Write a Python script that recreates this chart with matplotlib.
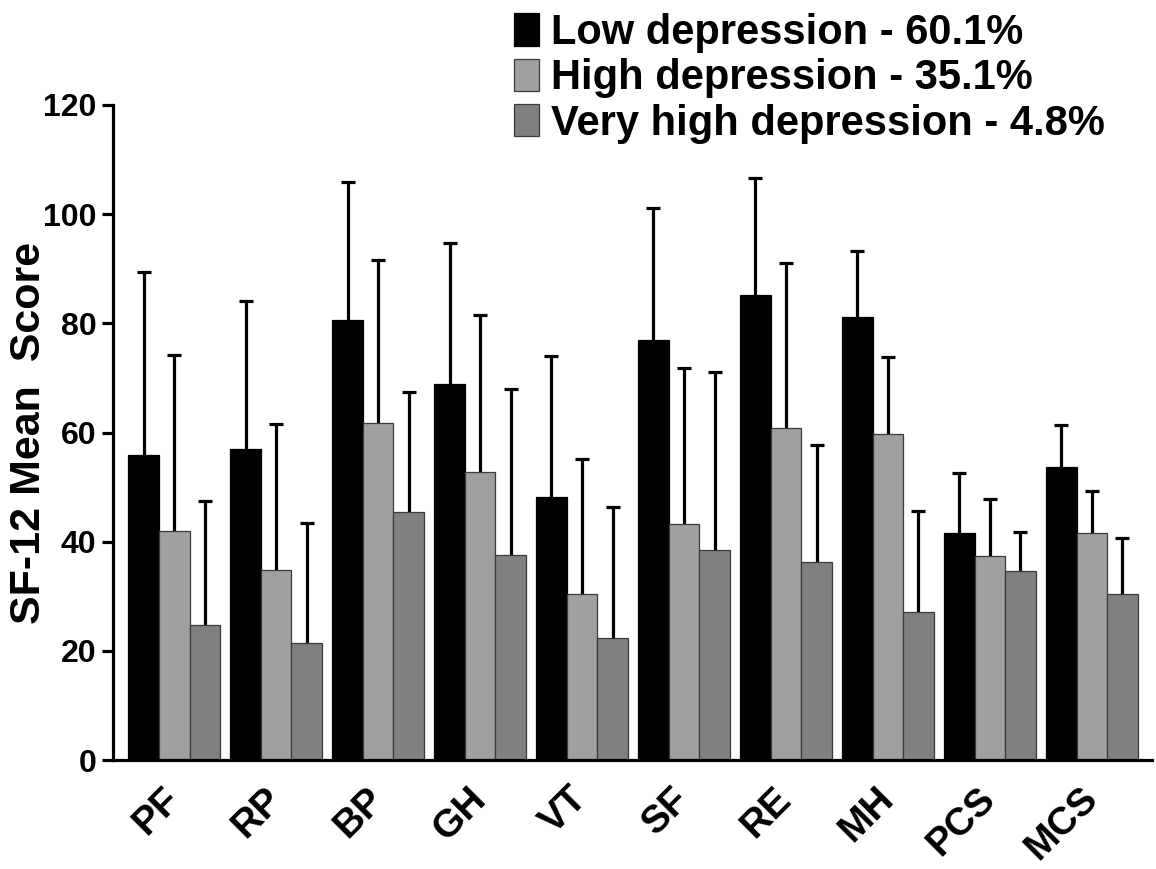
import numpy as np
import matplotlib
matplotlib.use("Agg")
import matplotlib.pyplot as plt

plt.rcParams['font.family'] = ['Liberation Sans', 'DejaVu Sans']
plt.rcParams['font.weight'] = 'bold'

categories = ["PF", "RP", "BP", "GH", "VT", "SF", "RE", "MH", "PCS", "MCS"]
series_names = ["Low depression - 60.1%", "High depression - 35.1%", "Very high depression - 4.8%"]
low_mean = [55.9, 57.0, 80.7, 68.8, 48.2, 76.9, 85.2, 81.2, 41.6, 53.6]
low_top = [89.4, 84.1, 105.8, 94.7, 74.1, 101.1, 106.7, 93.3, 52.5, 61.4]
high_mean = [42.0, 34.9, 61.8, 52.7, 30.4, 43.3, 60.9, 59.7, 37.4, 41.5]
high_top = [74.2, 61.5, 91.6, 81.6, 55.2, 71.8, 91.0, 73.8, 47.8, 49.2]
vhigh_mean = [24.8, 21.4, 45.4, 37.6, 22.4, 38.4, 36.2, 27.1, 34.7, 30.5]
vhigh_top = [47.5, 43.4, 67.4, 67.9, 46.3, 71.1, 57.8, 45.7, 41.7, 40.6]
yticks = [0, 20, 40, 60, 80, 100, 120]

colors = ["#000000", "#a0a0a0", "#808080"]
edgecolors = ["#000000", "#3a3a3a", "#3a3a3a"]

fig = plt.figure(figsize=(11.56, 8.69), dpi=100)
ax = fig.add_axes([0.0978, 0.1254, 0.8987, 0.7538])

x = np.arange(len(categories))
w = 0.3
means = [low_mean, high_mean, vhigh_mean]
tops = [low_top, high_top, vhigh_top]
handles = []
for i, (m, t) in enumerate(zip(means, tops)):
    m = np.array(m)
    t = np.array(t)
    pos = x + (i - 1) * w
    eb = ax.errorbar(pos, m, yerr=[np.zeros_like(m), t - m], fmt='none',
                     ecolor='black', elinewidth=2.3, capsize=5, capthick=2.3, zorder=1)
    # hide the lower caps (only upper error bars are shown)
    eb[1][0].set_visible(False)
    b = ax.bar(pos, m, width=w, color=colors[i], edgecolor=edgecolors[i],
               linewidth=0.9, zorder=2, label=series_names[i])
    handles.append(b)

ax.set_xlim(-0.6, 9.59)
ax.set_ylim(0, 120)
ax.set_yticks(yticks)
ax.set_yticklabels([str(v) for v in yticks], fontsize=23, fontweight='bold')
ax.set_xticks(x)
ax.set_xticklabels(categories, fontsize=28, fontweight='bold', rotation=45,
                   ha='right', va='center', rotation_mode='anchor')
ax.tick_params(axis='x', length=0, pad=24)
ax.tick_params(axis='y', length=8, width=2.3, pad=4)
for s in ['top', 'right']:
    ax.spines[s].set_visible(False)
for s in ['left', 'bottom']:
    ax.spines[s].set_linewidth(2.3)

ax.set_ylabel("SF-12 Mean  Score", fontsize=31, fontweight='bold')
ax.yaxis.set_label_coords(-0.062, 0.5)

leg = fig.legend(handles=handles, labels=series_names, loc='upper left',
                 bbox_to_anchor=(0.441, 0.99), frameon=False, fontsize=30,
                 handlelength=0.6, handleheight=0.82, handletextpad=0.3,
                 labelspacing=0.13, borderpad=0.1, borderaxespad=0)
for t in leg.get_texts():
    t.set_fontweight('bold')

fig.savefig("out.png", dpi=100)
